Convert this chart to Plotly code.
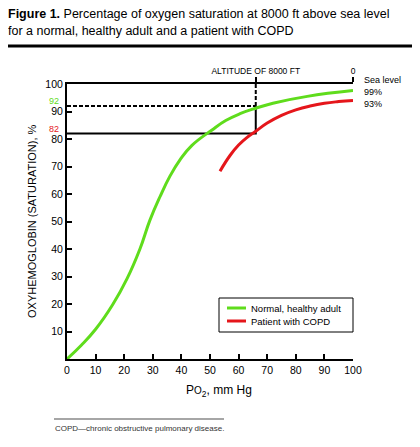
import plotly.graph_objects as go

# ---------------- data ----------------
po2_normal = [0, 5, 10, 16, 21, 25.5, 29, 32.5, 36, 39.5, 43.6, 50.6, 55.5, 60.5, 66, 72, 84, 100]
sat_normal = [0, 5, 10.8, 19.8, 29.2, 40, 50.5, 59, 66.5, 72.4, 77.6, 83.2, 86.7, 89.2, 91.2, 93, 95.5, 97.6]

po2_copd = [53.5, 57, 60, 63, 66, 70, 75, 80, 85, 90, 95, 100]
sat_copd = [68.3, 74, 77.8, 80.6, 82.8, 85.8, 88.6, 90.6, 92.0, 93.0, 93.6, 94.0]

altitude_po2 = 66          # Po2 at 8000 ft
normal_sat_8000 = 92       # normal adult saturation at 8000 ft
copd_sat_8000 = 82         # COPD saturation at 8000 ft

x_ticks = [0, 10, 20, 30, 40, 50, 60, 70, 80, 90, 100]
y_ticks = [10, 20, 30, 40, 50, 60, 70, 80, 90, 100]
top_ticks = [altitude_po2, 100]
top_labels = ["ALTITUDE OF 8000 FT", "0"]
sea_level_labels = ["Sea level", "99%", "93%"]
series_names = ["Normal, healthy adult", "Patient with COPD"]

GREEN = "#5fdc1c"
RED = "#e5161b"
FONT = "Liberation Sans"

# page body has an 8px margin: work in page pixels and convert
OFF = 8
W, H = 420 - OFF, 447 - OFF
X0, X1 = 67 - OFF, 353 - OFF     # plot area left/right (figure px)
Y0, Y1 = 84 - OFF, 359 - OFF     # plot area top/bottom (figure px)
L, R, T, B = X0, W - X1, Y0, H - Y1
PW, PH = X1 - X0, Y1 - Y0


def px_x(p):
    """page pixel -> paper x"""
    return (p - OFF - X0) / PW


def px_y(p):
    """page pixel -> paper y"""
    return (Y1 - (p - OFF)) / PH


fig = go.Figure()

# reference lines at 8000 ft
fig.add_trace(go.Scatter(x=[0, altitude_po2], y=[normal_sat_8000, normal_sat_8000], mode="lines",
                         line=dict(color="black", width=2, dash="4px,2px"), hoverinfo="skip", showlegend=False))
fig.add_trace(go.Scatter(x=[altitude_po2, altitude_po2], y=[100, normal_sat_8000], mode="lines",
                         line=dict(color="black", width=2, dash="4px,2px"), hoverinfo="skip", showlegend=False))
fig.add_trace(go.Scatter(x=[0, altitude_po2, altitude_po2], y=[copd_sat_8000, copd_sat_8000, normal_sat_8000],
                         mode="lines", line=dict(color="black", width=2), hoverinfo="skip", showlegend=False))

# curves
fig.add_trace(go.Scatter(x=po2_normal, y=sat_normal, mode="lines", name=series_names[0],
                         line=dict(color=GREEN, width=3, shape="spline", smoothing=1.3), showlegend=False))
fig.add_trace(go.Scatter(x=po2_copd, y=sat_copd, mode="lines", name=series_names[1],
                         line=dict(color=RED, width=3, shape="spline", smoothing=1.3), showlegend=False))

# invisible trace for top axis
fig.add_trace(go.Scatter(x=[0, 100], y=[0, 0], xaxis="x2", mode="markers",
                         marker=dict(opacity=0), hoverinfo="skip", showlegend=False))

axis_common = dict(showgrid=False, zeroline=False, showline=True, linecolor="black", linewidth=2,
                   ticks="inside", ticklen=5, tickwidth=1.5, tickcolor="black",
                   tickfont=dict(family=FONT, size=10.5, color="black"), fixedrange=True)

fig.update_layout(
    width=W, height=H,
    margin=dict(l=L, r=R, t=T, b=B),
    paper_bgcolor="white", plot_bgcolor="white",
    showlegend=False,
    xaxis=dict(range=[0, 100], tickvals=x_ticks, **axis_common),
    yaxis=dict(range=[0, 100], tickvals=y_ticks, **axis_common),
    xaxis2=dict(range=[0, 100], overlaying="x", side="top", anchor="y", tickvals=top_ticks, ticktext=top_labels,
                showgrid=False, zeroline=False, showline=True, linecolor="black", linewidth=2,
                ticks="outside", ticklen=5, tickwidth=1.5, tickcolor="black",
                tickfont=dict(family=FONT, size=8.5, color="black"), fixedrange=True),
)

ann = []
# title
ann.append(dict(text="<b>Figure 1.</b> Percentage of oxygen saturation at 8000 ft above sea level",
                xref="paper", yref="paper", x=px_x(6), y=px_y(14), xanchor="left", yanchor="middle",
                showarrow=False, font=dict(family=FONT, size=12.5, color="black")))
ann.append(dict(text="for a normal, healthy adult and a patient with COPD",
                xref="paper", yref="paper", x=px_x(6), y=px_y(31), xanchor="left", yanchor="middle",
                showarrow=False, font=dict(family=FONT, size=12.5, color="black")))
# axis titles
ann.append(dict(text="P<span style='font-size:10px'>O</span><sub>2</sub>, mm Hg", xref="paper", yref="paper",
                x=px_x(219), y=px_y(391), xanchor="center", yanchor="middle", showarrow=False,
                font=dict(family=FONT, size=12, color="black")))
ann.append(dict(text="OXYHEMOGLOBIN (SATURATION), %", xref="paper", yref="paper", textangle=-90,
                x=px_x(32), y=px_y(221), xanchor="center", yanchor="middle", showarrow=False,
                font=dict(family=FONT, size=11, color="black")))
# highlighted y labels
ann.append(dict(text=str(normal_sat_8000), xref="paper", yref="y", x=px_x(61), y=normal_sat_8000, yshift=5,
                xanchor="right", yanchor="middle", showarrow=False, font=dict(family=FONT, size=9, color=GREEN)))
ann.append(dict(text=str(copd_sat_8000), xref="paper", yref="y", x=px_x(61), y=copd_sat_8000, yshift=5,
                xanchor="right", yanchor="middle", showarrow=False, font=dict(family=FONT, size=9, color=RED)))
# sea level labels
for txt, yp in zip(sea_level_labels, [80, 92, 104]):
    ann.append(dict(text=txt, xref="paper", yref="paper", x=px_x(362), y=px_y(yp), xanchor="left",
                    yanchor="middle", showarrow=False, font=dict(family=FONT, size=9, color="black")))
# legend text
for txt, yp in zip(series_names, [308, 321]):
    ann.append(dict(text=txt, xref="paper", yref="paper", x=px_x(249), y=px_y(yp), xanchor="left",
                    yanchor="middle", showarrow=False, font=dict(family=FONT, size=9.5, color="black")))
# footnote
ann.append(dict(text="COPD\u2014chronic obstructive pulmonary disease.", xref="paper", yref="paper",
                x=px_x(53), y=px_y(428), xanchor="left", yanchor="middle", showarrow=False,
                font=dict(family=FONT, size=8, color="#333333")))
fig.update_layout(annotations=ann)

shapes = []
# rule under title
shapes.append(dict(type="line", xref="paper", yref="paper", x0=px_x(8), x1=px_x(412), y0=px_y(46), y1=px_y(46),
                   line=dict(color="black", width=3)))
# footnote rule
shapes.append(dict(type="line", xref="paper", yref="paper", x0=px_x(54), x1=px_x(224), y0=px_y(419), y1=px_y(419),
                   line=dict(color="#888888", width=1.5)))
# legend box
shapes.append(dict(type="rect", xref="paper", yref="paper", x0=px_x(219), x1=px_x(353), y0=px_y(298), y1=px_y(332),
                   line=dict(color="black", width=1), fillcolor="white", layer="above"))
for col, yp in zip([GREEN, RED], [308, 321]):
    shapes.append(dict(type="line", xref="paper", yref="paper", x0=px_x(227), x1=px_x(246), y0=px_y(yp), y1=px_y(yp),
                       line=dict(color=col, width=3), layer="above"))
fig.update_layout(shapes=shapes)

fig.write_html("out.html")
